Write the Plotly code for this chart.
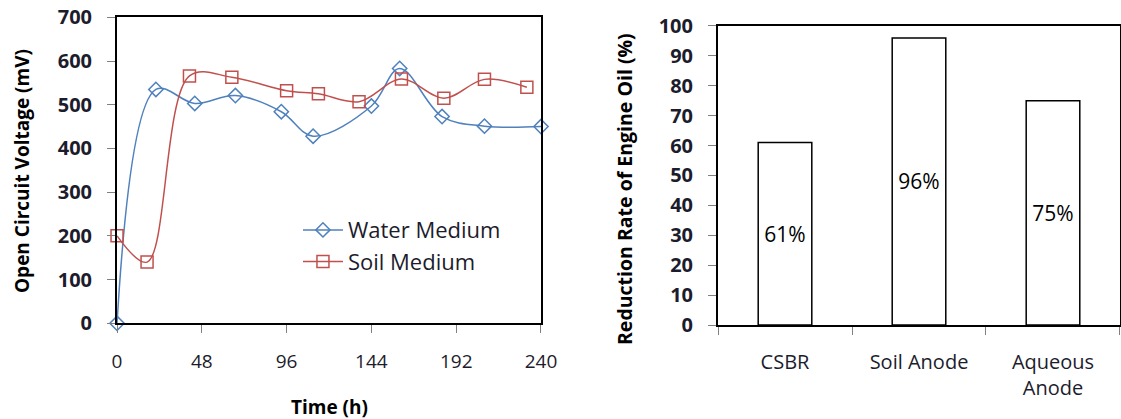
import plotly.graph_objects as go

# ---- data ----
water_t = [0, 22, 44, 67, 93, 111, 144, 160, 184, 208, 240]
water_v = [0, 535, 503, 521, 484, 428, 497, 583, 473, 451, 450]
soil_t = [0, 17, 41, 65, 96, 114, 137, 161, 185, 208, 232]
soil_v = [200, 140, 566, 563, 532, 525, 507, 559, 515, 558, 540]
x_ticks = [0, 48, 96, 144, 192, 240]

bar_cats = ["CSBR", "Soil Anode", "Aqueous<br>Anode"]
bar_vals = [61, 96, 75]
bar_labels = ["61%", "96%", "75%"]

FONT = "'Open Sans', sans-serif"
TXT = "#1c1c2c"

fig = go.Figure()

fig.add_trace(go.Scatter(
    x=water_t, y=water_v, name="Water Medium", mode="lines+markers",
    line=dict(color="#4F81BD", width=1.5, shape="spline", smoothing=1),
    marker=dict(symbol="diamond-open", size=11, color="#4F81BD", line=dict(width=1.5)),
    xaxis="x", yaxis="y", cliponaxis=False,
))
fig.add_trace(go.Scatter(
    x=soil_t, y=soil_v, name="Soil Medium", mode="lines+markers",
    line=dict(color="#C0504D", width=1.5, shape="spline", smoothing=1),
    marker=dict(symbol="square-open", size=12, color="#C0504D", line=dict(width=1.5)),
    xaxis="x", yaxis="y", cliponaxis=False,
))
fig.add_trace(go.Bar(
    x=bar_cats, y=bar_vals, text=bar_labels, textposition="inside",
    insidetextanchor="middle", textangle=0,
    textfont=dict(family=FONT, size=21, color="black"),
    marker=dict(color="white", line=dict(color="black", width=1.5)),
    width=0.4, xaxis="x2", yaxis="y2", showlegend=False,
))

axis_common = dict(showline=True, linecolor="black", linewidth=2, mirror=True,
                   showgrid=False, zeroline=False, ticks="outside", ticklen=8,
                   tickcolor="#808080", tickwidth=1, automargin=False)

fig.update_layout(
    width=1121, height=419,
    margin=dict(l=0, r=0, t=0, b=0, autoexpand=False),
    paper_bgcolor="white", plot_bgcolor="white",
    font=dict(family=FONT, color=TXT),
    xaxis=dict(domain=[0.1044, 0.4826], range=[0, 240], tickvals=x_ticks,
               tickfont=dict(size=19, color=TXT), ticklabelstandoff=12,
               anchor="y", **axis_common),
    yaxis=dict(domain=[0.2284, 0.9587], range=[0, 700], dtick=100,
               tickfont=dict(size=20, color=TXT, weight="bold"), ticklabelstandoff=11,
               anchor="x", **axis_common),
    xaxis2=dict(domain=[0.6405, 0.9991], range=[-0.5, 2.5], tickson="boundaries",
                tickfont=dict(size=20, color=TXT), ticklabelstandoff=18,
                anchor="y2", **axis_common),
    yaxis2=dict(domain=[0.2243, 0.938], range=[0, 100], dtick=10,
                tickfont=dict(size=20, color=TXT, weight="bold"), ticklabelstandoff=11,
                anchor="x2", **axis_common),
    legend=dict(x=0.2658, y=0.501, xanchor="left", yanchor="top",
                bgcolor="rgba(0,0,0,0)", font=dict(size=22, color=TXT),
                tracegroupgap=0, itemwidth=40),
    annotations=[
        dict(text="<b>Open Circuit Voltage (mV)</b>", x=22, y=171, showarrow=False,
             textangle=-90, font=dict(size=19, color="black")),
        dict(text="<b>Time (h)</b>", x=329, y=407, showarrow=False,
             font=dict(size=19, color="black")),
        dict(text="<b>Reduction Rate of Engine Oil (%)</b>", x=625, y=189, showarrow=False,
             textangle=-90, font=dict(size=19.5, color="black")),
    ],
)

# convert pixel annotation positions to paper coords
W, H = 1121, 419
anns = []
for a in fig.layout.annotations:
    a = a.to_plotly_json()
    a["xref"] = "paper"; a["yref"] = "paper"
    a["x"] = a["x"] / W
    a["y"] = 1 - a["y"] / H
    a["xanchor"] = "center"; a["yanchor"] = "middle"
    anns.append(a)
fig.layout.annotations = anns

fig.write_html("out.html", config={"displayModeBar": False},
               post_script="document.body.style.margin='0';document.body.style.overflow='hidden';")
